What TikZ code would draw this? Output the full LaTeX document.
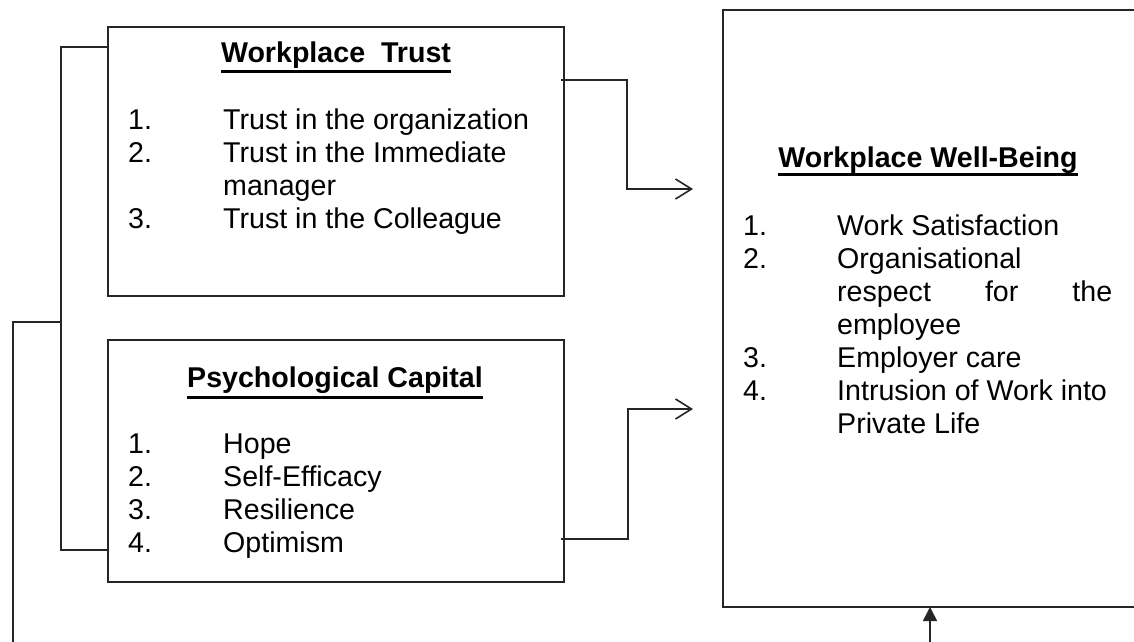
\documentclass[tikz,border=0pt]{standalone}
\usepackage{fontspec}
\setmainfont{Liberation Sans}
\usetikzlibrary{arrows.meta,calc}
\begin{document}
\begin{tikzpicture}[x=1pt,y=-1pt,
  box/.style={draw=black!85, line width=1.6pt, inner sep=0pt, outer sep=0pt},
  conn/.style={draw=black!85, line width=1.6pt},
  barb/.style={-{Straight Barb[length=16pt,width=20pt]}},
  tri/.style={-{Triangle[length=14pt,width=14pt]}},
  txt/.style={font=\fontsize{28.6}{33}\selectfont, inner sep=0pt, anchor=base west},
  ttl/.style={font=\fontsize{28.6}{33}\selectfont\bfseries, inner sep=0pt, anchor=base},
  uline/.style={draw=black, line width=3pt}]
\clip (0,0) rectangle (1134,641);
\fill[white] (0,0) rectangle (1134,641);

% boxes
\node[box, minimum width=456pt, minimum height=269pt] (trust) at (336,161.5) {};
\node[box, minimum width=456pt, minimum height=242pt] (psy) at (336,461) {};
\node[box, minimum width=427pt, minimum height=597pt] (wb) at (936.5,308.5) {};

% Workplace Trust
\node[ttl] (t1) at (336,62) {Workplace~~Trust};
\draw[uline] ($(t1.base west)+(0,9.5)$) -- ($(t1.base east)+(0,9.5)$);
\node[txt] (t1n1) at (128,129) {1.};
\node[txt] (t1i1) at (223,129) {Trust in the organization};
\node[txt] (t1n2) at (128,162) {2.};
\node[txt] (t1i2) at (223,162) {Trust in the Immediate};
\node[txt] (t1i2b) at (223,195) {manager};
\node[txt] (t1n3) at (128,228) {3.};
\node[txt] (t1i3) at (223,228) {Trust in the Colleague};

% Psychological Capital
\node[ttl] (t2) at (335,387) {Psychological Capital};
\draw[uline] ($(t2.base west)+(0,10)$) -- ($(t2.base east)+(0,10)$);
\node[txt] (t2n1) at (128,453) {1.};
\node[txt] (t2i1) at (223,453) {Hope};
\node[txt] (t2n2) at (128,486) {2.};
\node[txt] (t2i2) at (223,486) {Self-Efficacy};
\node[txt] (t2n3) at (128,519) {3.};
\node[txt] (t2i3) at (223,519) {Resilience};
\node[txt] (t2n4) at (128,552) {4.};
\node[txt] (t2i4) at (223,552) {Optimism};

% Workplace Well-Being
\node[ttl] (t3) at (928,167) {Workplace Well-Being};
\draw[uline] ($(t3.base west)+(0,7.5)$) -- ($(t3.base east)+(0,7.5)$);
\node[txt] (t3n1) at (743,235) {1.};
\node[txt] (t3i1) at (837,235) {Work Satisfaction};
\node[txt] (t3n2) at (743,268) {2.};
\node[txt] (t3i2) at (837,268) {Organisational};
\node[txt] (t3i2b) at (837,301) {\makebox[275pt][s]{respect for the}};
\node[txt] (t3i2c) at (837,334) {employee};
\node[txt] (t3n3) at (743,367) {3.};
\node[txt] (t3i3) at (837,367) {Employer care};
\node[txt] (t3n4) at (743,400) {4.};
\node[txt] (t3i4) at (837,400) {Intrusion of Work into};
\node[txt] (t3i4b) at (837,433) {Private Life};

% free ends
\coordinate (a1) at (693,189);
\coordinate (a2) at (693,409);

% bracket on the left
\draw[conn] ($(trust.north west)+(0,20)$) -- ++(-47,0) coordinate (bt) |- ($(psy.south west)+(0,-32)$);
\coordinate (bm) at (61,322);

% arrows to well-being
\draw[conn, barb] ($(trust.north east)+(-3,53)$) -| (627,189) -- (a1);
\draw[conn, barb] ($(psy.south east)+(-3,-43)$) -| (628,409) -- (a2);

% feedback loop at the bottom
\draw[conn, tri] (bm) -- (13,322) -- (13,680) -- (930,680) -- ($(wb.south west)+(207,0)$);
\end{tikzpicture}
\end{document}
